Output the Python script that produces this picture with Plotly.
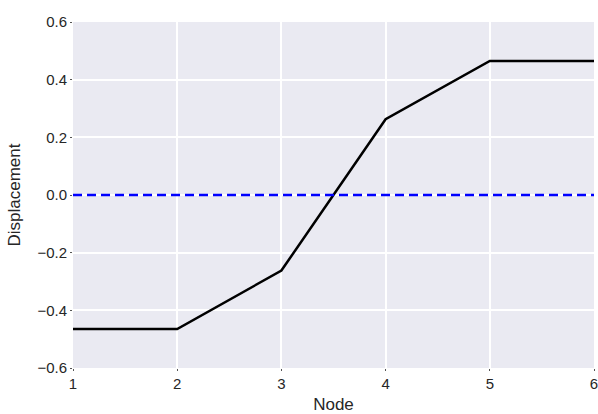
import plotly.graph_objects as go

nodes = [1, 2, 3, 4, 5, 6]
displacement = [-0.465, -0.465, -0.262, 0.263, 0.465, 0.465]
zero_line = [0, 0, 0, 0, 0, 0]
y_ticks = [-0.6, -0.4, -0.2, 0.0, 0.2, 0.4, 0.6]
y_tick_labels = ["\u22120.6", "\u22120.4", "\u22120.2", "0.0", "0.2", "0.4", "0.6"]
x_ticks = [1, 2, 3, 4, 5, 6]

fig = go.Figure()
fig.add_trace(go.Scatter(x=nodes, y=displacement, mode="lines",
                         line=dict(color="black", width=2.5), showlegend=False))
fig.add_trace(go.Scatter(x=nodes, y=zero_line, mode="lines",
                         line=dict(color="blue", width=2.5, dash="9px,5px"), showlegend=False))

font = dict(family="Liberation Sans, Arial, sans-serif", size=15, color="#262626")
fig.update_layout(
    width=598, height=414,
    margin=dict(l=73, r=4, t=22, b=46, autoexpand=False),
    paper_bgcolor="white", plot_bgcolor="#EAEAF2",
    font=font,
    xaxis=dict(range=[1, 6], tickvals=x_ticks, showgrid=True, gridcolor="white", gridwidth=1.5,
               zeroline=False, showline=False, ticks="outside", ticklen=2, tickcolor="#555",
               automargin=False, ticklabeloverflow="allow", tickfont=dict(size=15),
               title=dict(text="Node", font=dict(size=17), standoff=10)),
    yaxis=dict(range=[-0.6, 0.6], tickvals=y_ticks, ticktext=y_tick_labels, showgrid=True,
               gridcolor="white", gridwidth=1.5, zeroline=False, showline=False,
               ticks="outside", ticklen=2, tickcolor="#555", automargin=False,
               ticklabeloverflow="allow", tickfont=dict(size=15),
               title=dict(text="Displacement", font=dict(size=17), standoff=12)),
)
fig.write_html("out.html")
